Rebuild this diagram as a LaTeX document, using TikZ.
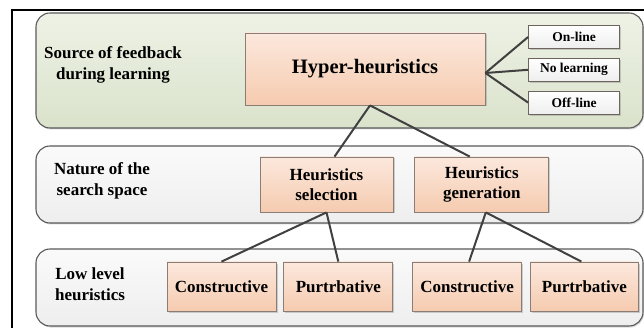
\documentclass[tikz,border=0pt]{standalone}
\usepackage{fontspec}
\setmainfont{Liberation Serif}
\usetikzlibrary{positioning,shadows}
\definecolor{greentop}{HTML}{EEF2E6}
\definecolor{greenbot}{HTML}{DAE2CB}
\definecolor{greytop}{HTML}{FAFAFA}
\definecolor{greybot}{HTML}{EEEEEE}
\definecolor{peachtop}{HTML}{FCE8DD}
\definecolor{peachbot}{HTML}{F5CBAF}
\definecolor{panelline}{HTML}{5A5A5A}
\definecolor{boxline}{HTML}{8A7D76}
\definecolor{linkgrey}{HTML}{404040}
\begin{document}
\begin{tikzpicture}[x=1pt, y=-1pt,
  panel/.style = {draw=panelline, line width=1.1pt, rounded corners=14pt, top color=greytop, bottom color=greybot, drop shadow={opacity=0.3, shadow xshift=1pt, shadow yshift=-1.5pt}},
  box/.style = {draw=boxline, line width=0.8pt, top color=peachtop, bottom color=peachbot, inner sep=0pt, align=center, font=\bfseries\fontsize{17}{20}\selectfont, drop shadow={opacity=0.35, shadow xshift=1.5pt, shadow yshift=-1.5pt}},
  tag/.style = {draw=boxline!80!black, line width=0.8pt, top color=white, bottom color=greybot, inner sep=0pt, minimum width=91pt, minimum height=23pt, font=\bfseries\fontsize{13.5}{16}\selectfont, drop shadow={opacity=0.35, shadow xshift=1.5pt, shadow yshift=-1.5pt}},
  lbl/.style = {align=center, font=\bfseries\fontsize{17}{21}\selectfont},
  link/.style = {draw=linkgrey, line width=2pt}]
\clip (0,0) rectangle (644,328);
\fill[white] (0,0) rectangle (644,328);
\draw[line width=2pt] (12,340) -- (12,10) -- (660,10);

\draw[panel, top color=greentop, bottom color=greenbot] (36,13) rectangle (643,128);
\draw[panel] (36,146) rectangle (643,223);
\draw[panel] (36,249) rectangle (643,326);

\node[lbl] (s) at (113,65) {Source of feedback\\during learning};
\node[lbl] (n) at (102,181) {Nature of the\\search space};
\node[lbl] (l) at (90,284) {Low level\\heuristics};

\node[box, minimum width=240pt, minimum height=72pt, font=\bfseries\fontsize{20.5}{24}\selectfont] (1) at (365,69) {Hyper-heuristics};
\node[tag] (2) at (574,37) {On-line};
\node[tag] (3) [below=9pt of 2] {No learning};
\node[tag] (4) [below=9pt of 3] {Off-line};
\node[box, minimum width=133pt, minimum height=55pt] (5) at (326.5,184.5) {Heuristics\\selection};
\node[box, minimum width=134pt, minimum height=55pt] (6) [right=21pt of 5] {Heuristics\\generation};
\node[box, minimum width=109pt, minimum height=49pt] (7) at (221.5,286.5) {Constructive};
\node[box, minimum width=109pt, minimum height=49pt] (8) [right=7pt of 7] {Purtrbative};
\node[box, minimum width=109pt, minimum height=49pt] (9) [right=19pt of 8] {Constructive};
\node[box, minimum width=108pt, minimum height=49pt] (10) [right=8pt of 9] {Purtrbative};

\draw[link] ([yshift=-4pt]1.east) -- (2.west);
\draw[link] ([yshift=-4pt]1.east) -- (3.west);
\draw[link] ([yshift=-4pt]1.east) -- (4.west);
\draw[link] ([xshift=5pt]1.south) -- ([xshift=8pt]5.north);
\draw[link] ([xshift=5pt]1.south) -- ([xshift=-12pt]6.north);
\draw[link] (5.south) -- (7.north);
\draw[link] (5.south) -- (8.north);
\draw[link] ([xshift=4pt]6.south) -- ([xshift=2pt]9.north);
\draw[link] ([xshift=4pt]6.south) -- ([xshift=-3pt]10.north);
\end{tikzpicture}
\end{document}
